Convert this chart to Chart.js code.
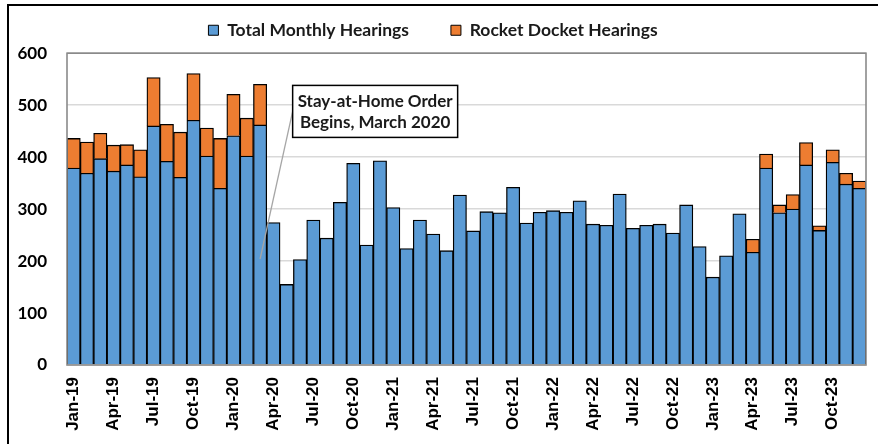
<!DOCTYPE html>
<html>
<head>
<meta charset="utf-8">
<script src="https://cdn.jsdelivr.net/npm/chart.js@4/dist/chart.umd.min.js"></script>
<style>
  html, body { margin: 0; padding: 0; background: #fff; }
  #wrap { position: relative; width: 878px; height: 444px; }
</style>
</head>
<body>
<div id="wrap"><canvas id="c" width="878" height="444"></canvas></div>
<script>
const months = [
  'Jan-19','Feb-19','Mar-19','Apr-19','May-19','Jun-19','Jul-19','Aug-19','Sep-19','Oct-19','Nov-19','Dec-19',
  'Jan-20','Feb-20','Mar-20','Apr-20','May-20','Jun-20','Jul-20','Aug-20','Sep-20','Oct-20','Nov-20','Dec-20',
  'Jan-21','Feb-21','Mar-21','Apr-21','May-21','Jun-21','Jul-21','Aug-21','Sep-21','Oct-21','Nov-21','Dec-21',
  'Jan-22','Feb-22','Mar-22','Apr-22','May-22','Jun-22','Jul-22','Aug-22','Sep-22','Oct-22','Nov-22','Dec-22',
  'Jan-23','Feb-23','Mar-23','Apr-23','May-23','Jun-23','Jul-23','Aug-23','Sep-23','Oct-23','Nov-23','Dec-23'
];
const totalMonthly = [
  379,369,397,373,385,362,460,392,361,471,402,340,
  441,402,462,274,155,203,279,244,313,388,231,393,
  303,224,279,252,220,327,258,295,293,342,273,294,
  297,294,316,271,269,329,263,269,271,254,308,228,
  169,210,291,217,379,293,300,385,259,390,348,340
];
const rocketDocket = [
  57,60,49,50,39,52,93,71,87,90,54,96,
  80,73,78,0,0,0,0,0,0,0,0,0,
  0,0,0,0,0,0,0,0,0,0,0,0,
  0,0,0,0,0,0,0,0,0,0,0,0,
  0,0,0,25,27,15,28,43,9,24,21,14
];
const seriesColors = ['#5B9BD5', '#ED7D31'];
const yTicks = [0,100,200,300,400,500,600];
const annotationLines = ['Stay-at-Home Order','Begins, March 2020'];
const annotationTarget = { index: 14, value: 204 };
const annotationBox = { index: 22.64, value: 488 };

const frame = {
  id: 'frame',
  beforeDraw(chart) {
    const ctx = chart.ctx;
    ctx.save();
    ctx.fillStyle = '#fff';
    ctx.fillRect(0, 0, chart.width, chart.height);
    ctx.restore();
  },
  afterDraw(chart) {
    const ctx = chart.ctx, a = chart.chartArea;
    ctx.save();
    ctx.strokeStyle = '#8a8a8a';
    ctx.lineWidth = 1.6;
    ctx.strokeRect(a.left, a.top, a.right - a.left, a.bottom - a.top);
    ctx.strokeStyle = '#000';
    ctx.lineWidth = 2;
    ctx.beginPath();
    ctx.moveTo(8, chart.height);
    ctx.lineTo(8, 5);
    ctx.lineTo(chart.width, 5);
    ctx.stroke();
    // annotation
    const xs = chart.scales.x, ys = chart.scales.y;
    const cx = xs.getPixelForValue(annotationBox.index);
    const cy = ys.getPixelForValue(annotationBox.value);
    const w = 165, h = 52;
    const bx = cx - w / 2, by = cy - h / 2;
    const tx = xs.getPixelForValue(annotationTarget.index);
    const ty = ys.getPixelForValue(annotationTarget.value);
    ctx.strokeStyle = '#a6a6a6';
    ctx.lineWidth = 1.3;
    ctx.beginPath();
    ctx.moveTo(bx, cy);
    ctx.lineTo(tx, ty);
    ctx.stroke();
    ctx.fillStyle = '#fff';
    ctx.fillRect(bx, by, w, h);
    ctx.strokeStyle = '#000';
    ctx.lineWidth = 1.5;
    ctx.strokeRect(bx, by, w, h);
    ctx.fillStyle = '#1a1a1a';
    ctx.font = 'bold 17px Lato';
    ctx.textAlign = 'center';
    ctx.textBaseline = 'middle';
    ctx.fillText(annotationLines[0], cx, cy - 10);
    ctx.fillText(annotationLines[1], cx, cy + 11);
    ctx.restore();
  }
};

new Chart(document.getElementById('c'), {
  type: 'bar',
  data: {
    labels: months,
    datasets: [
      {
        label: 'Total Monthly Hearings',
        data: totalMonthly,
        backgroundColor: seriesColors[0],
        borderColor: '#000',
        borderWidth: 1.3,
        barPercentage: 1,
        categoryPercentage: 1
      },
      {
        label: 'Rocket Docket Hearings',
        data: rocketDocket,
        backgroundColor: (c) => (c.raw === 0 ? 'rgba(0,0,0,0)' : seriesColors[1]),
        borderColor: '#000',
        borderWidth: (c) => (c.raw ? 1.3 : 0),
        barPercentage: 1,
        categoryPercentage: 1
      }
    ]
  },
  options: {
    responsive: false,
    animation: false,
    layout: { padding: { top: -20.5, left: 0, right: 12, bottom: 0 } },
    plugins: {
      legend: {
        position: 'top',
        weight: 3000,
        labels: {
          color: '#1a1a1a',
          font: { family: 'Lato', weight: 'bold', size: 17.5 },
          boxWidth: 10,
          boxHeight: 10,
          padding: 42,
          generateLabels(chart) {
            return Chart.defaults.plugins.legend.labels.generateLabels(chart)
              .map(l => Object.assign(l, {
                fillStyle: seriesColors[l.datasetIndex],
                lineWidth: 1,
                strokeStyle: '#000'
              }));
          }
        }
      },
      title: {
        display: true,
        text: '',
        weight: 500,
        font: { size: 1 },
        padding: { top: 0, bottom: 3.0 }
      },
      tooltip: { enabled: false }
    },
    scales: {
      x: {
        stacked: true,
        grid: { display: false, drawTicks: false },
        border: { display: false },
        ticks: {
          autoSkip: false,
          minRotation: 90,
          maxRotation: 90,
          padding: 12,
          color: '#000',
          font: { family: 'Liberation Sans', weight: 'bold', size: 17 },
          callback: (v, i) => (i % 3 === 0 ? months[i] : '')
        },
        afterFit(s) { s.height = 79; s.paddingLeft = 0; s.paddingRight = 0; }
      },
      y: {
        stacked: true,
        min: 0,
        max: 600,
        afterBuildTicks(s) { s.ticks = yTicks.map(v => ({ value: v })); },
        grid: { color: '#d9d9d9', lineWidth: 1.6, drawTicks: false },
        border: { display: false },
        ticks: {
          padding: 20,
          color: '#000',
          font: { family: 'Lato', weight: 'bold', size: 17 }
        },
        afterFit(s) { s.width = 67; }
      }
    }
  },
  plugins: [frame]
});
</script>
</body>
</html>
